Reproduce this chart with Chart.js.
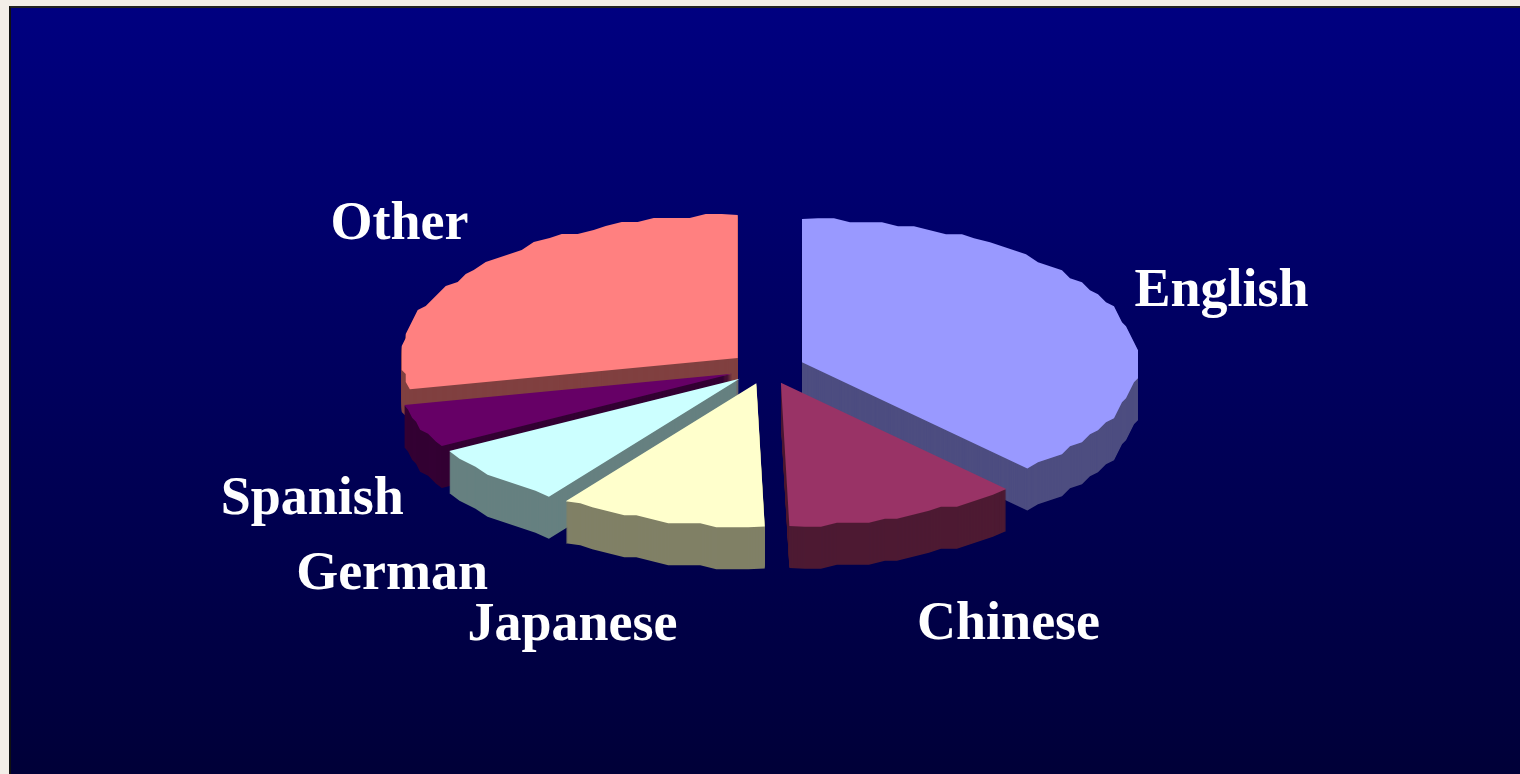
<!DOCTYPE html>
<html>
<head>
<meta charset="utf-8">
<title>Languages</title>
<script src="https://cdn.jsdelivr.net/npm/chart.js@4"></script>
<style>
    html, body { margin: 0; padding: 0; width: 1520px; height: 774px; overflow: hidden; background: #f3eee8; }
    #panel {
        position: absolute; left: 9px; top: 6px; right: 0; bottom: 0;
        border-left: 2px solid #111; border-top: 2px solid #222;
        background: linear-gradient(to bottom, #000080 0%, #000038 100%);
    }
    #pie { position: absolute; left: 0; top: 0; }
</style>
</head>
<body>
<div id="panel"></div>
<canvas id="pie" width="1520" height="774"></canvas>
<script>
// Data
const languages = ['English', 'Chinese', 'Japanese', 'German', 'Spanish', 'Other'];
const shares = [38.3, 11.3, 10, 7, 4.9, 28.5];
const topColors = ['#9999ff', '#993366', '#ffffcc', '#ccffff', '#660066', '#ff8080'];
const wallColors = ['#4d4d80', '#4d1a33', '#808066', '#668080', '#330033', '#804040'];

// how the flat pie gets tilted
const SQUASH = 0.426;
const DEPTH = 42;
const EXPLODE = 37.5;

// label position, relative to the point on the rim in the middle of the slice
const labelShift = [[106, -19], [103, 109], [-88, 106], [-101, 99], [-107, 74], [-76, -43]];

// the rim in the original is a rough stepped outline, not a clean ellipse
function tracePiece(ctx, arc, x, y) {
    const r = arc.outerRadius;
    const steps = Math.max(2, Math.ceil((arc.endAngle - arc.startAngle) / 0.05));
    ctx.beginPath();
    ctx.moveTo(x, y);
    for (let i = 0; i <= steps; i++) {
        const a = arc.startAngle + (arc.endAngle - arc.startAngle) * i / steps;
        let px = r * Math.cos(a);
        let py = r * Math.sin(a) * SQUASH;
        if (i > 0 && i < steps) {
            px = Math.round(px / 4) * 4;
            py = Math.round(py / 4) * 4;
        }
        ctx.lineTo(x + px, y + py);
    }
    ctx.closePath();
}

const pie3d = {
    id: 'pie3d',
    // returning false stops the flat pie from being painted
    beforeDatasetDraw(chart, args) {
        const ctx = chart.ctx;
        const arcs = chart.getDatasetMeta(args.index).data;
        const order = arcs.map((arc, i) => i).sort((a, b) => {
            const midA = (arcs[a].startAngle + arcs[a].endAngle) / 2;
            const midB = (arcs[b].startAngle + arcs[b].endAngle) / 2;
            return Math.sin(midA) - Math.sin(midB);
        });
        order.forEach(i => {
            const arc = arcs[i];
            const mid = (arc.startAngle + arc.endAngle) / 2;
            const x = arc.x + Math.cos(mid) * EXPLODE;
            const y = arc.y + Math.sin(mid) * EXPLODE * SQUASH;
            ctx.fillStyle = wallColors[i];
            for (let d = DEPTH; d > 0; d--) {
                tracePiece(ctx, arc, x, y + d);
                ctx.fill();
            }
            ctx.fillStyle = topColors[i];
            tracePiece(ctx, arc, x, y);
            ctx.fill();
        });
        return false;
    },
    afterDraw(chart) {
        const ctx = chart.ctx;
        const arcs = chart.getDatasetMeta(0).data;
        ctx.save();
        ctx.fillStyle = '#fff';
        ctx.font = 'bold 54px "Liberation Serif"';
        ctx.textAlign = 'center';
        ctx.textBaseline = 'middle';
        arcs.forEach((arc, i) => {
            const mid = (arc.startAngle + arc.endAngle) / 2;
            const reach = arc.outerRadius + EXPLODE;
            const x = arc.x + Math.cos(mid) * reach + labelShift[i][0];
            const y = arc.y + Math.sin(mid) * reach * SQUASH + labelShift[i][1];
            ctx.fillText(languages[i], x, y);
        });
        ctx.restore();
    }
};

const PIE = document.getElementById('pie');
const languageChart = new Chart(PIE, {
    type: 'pie',
    data: {
        labels: languages,
        datasets: [{
            data: shares,
            backgroundColor: topColors,
            borderWidth: 0,
        }]
    },
    options: {
        responsive: false,
        animation: false,
        radius: 336,
        layout: {
            padding: { left: 14, bottom: 38 }
        },
        plugins: {
            legend: { display: false },
            tooltip: { enabled: false },
        },
    },
    plugins: [pie3d],
});
</script>
</body>
</html>
